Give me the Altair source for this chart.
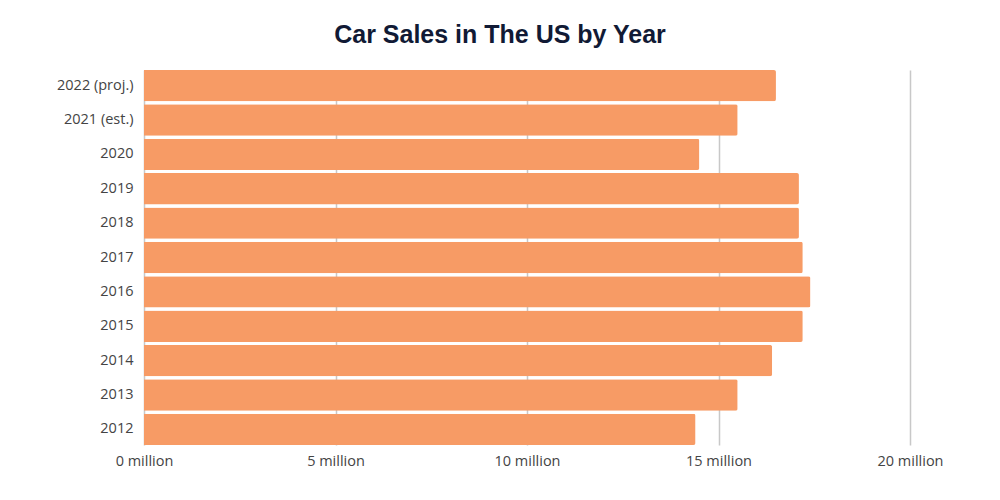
import altair as alt
import pandas as pd

years = ["2022 (proj.)", "2021 (est.)", "2020", "2019", "2018", "2017", "2016", "2015", "2014", "2013", "2012"]
sales = [16.5, 15.5, 14.5, 17.1, 17.1, 17.2, 17.4, 17.2, 16.4, 15.5, 14.4]

df = pd.DataFrame({"year": years, "sales": sales})

chart = alt.Chart(df).mark_bar(
    color="#f79b65", cornerRadiusTopRight=2, cornerRadiusBottomRight=2
).encode(
    y=alt.Y("year:N", sort=years, title=None,
            scale=alt.Scale(paddingInner=0.09, paddingOuter=0.0),
            axis=alt.Axis(domain=False, ticks=False, labelFont="Open Sans", labelFontSize=14.5,
                          labelColor="#444444", labelPadding=11, grid=False)),
    x=alt.X("sales:Q", title=None,
            scale=alt.Scale(domain=[0, 20], nice=False),
            axis=alt.Axis(values=[0, 5, 10, 15, 20], labelExpr="datum.value + ' million'",
                          domain=False, ticks=False, labelFont="Open Sans", labelFontSize=14.5,
                          labelColor="#444444", labelPadding=9, labelFlush=False,
                          labelOverlap=False, grid=True,
                          gridColor="#c8c8c8", gridWidth=1.5)),
).properties(
    width=766, height=375,
    title=alt.Title("Car Sales in The US by Year", font="Liberation Sans", fontSize=25,
                    fontWeight="bold", color="#111a35", offset=22, anchor="middle", dx=-27),
    autosize=alt.AutoSizeParams(type="none"),
    padding={"left": 136, "top": 62, "right": 74, "bottom": 47},
    background="white",
).configure_view(stroke=None)

chart.save("out.html", embed_options={"renderer": "svg", "actions": False})
